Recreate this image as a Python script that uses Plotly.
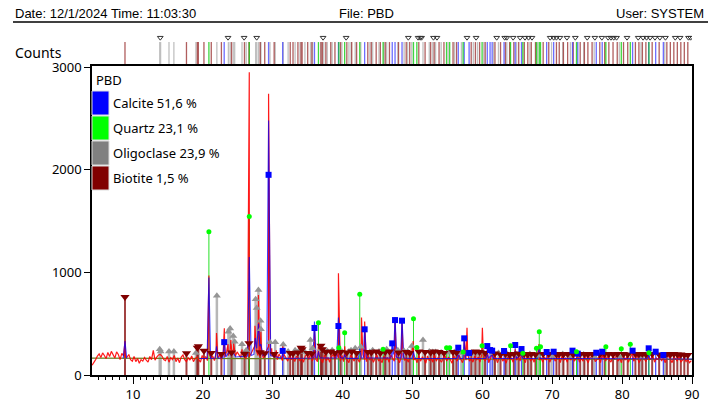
import numpy as np
import plotly.graph_objects as go

# ---------------- data ----------------
# observed pattern: background samples (start 4.15, step 0.25 deg 2theta)
obs_bg_start = 4.15
obs_bg_step = 0.25
obs_bg = [
    95, 120, 150, 185, 205, 170, 215, 190, 160, 220, 180, 230, 195, 165, 225, 200, 150, 210, 185, 170,
    175, 200, 150, 135, 180, 130, 160, 115, 150, 135, 170, 145, 125, 180, 150, 240, 145, 175, 195, 200,
    185, 150, 140, 180, 125, 170, 150, 190, 130, 165, 120, 175, 195, 150, 130, 170, 145, 185, 130, 160,
    175, 150, 125, 190, 150, 180, 140, 200, 160, 185, 140, 210, 165, 195, 150, 220, 175, 230, 190, 240,
    215, 250, 185, 225, 200, 170, 220, 185, 160, 225, 175, 210, 250, 280, 235, 190, 175, 220, 165, 205,
    235, 280, 200, 180, 215, 170, 150, 205, 175, 140, 195, 165, 135, 190, 150, 175, 130, 185, 160, 140,
    165, 125, 185, 200, 150, 215, 135, 180, 155, 130, 190, 160, 120, 195, 140, 170, 125, 180, 200, 150,
    210, 165, 135, 190, 130, 180, 155, 120, 195, 165, 135, 185, 160, 125, 180, 200, 150, 130, 190, 145,
    170, 125, 160, 195, 135, 155, 120, 185, 145, 170, 125, 195, 160, 135, 185, 160, 120, 175, 195, 145,
    160, 125, 185, 205, 145, 165, 120, 190, 135, 175, 155, 115, 185, 140, 165, 125, 195, 135, 170, 150,
    125, 165, 190, 135, 175, 150, 115, 185, 160, 135, 195, 160, 120, 175, 145, 200, 135, 160, 125, 185,
    145, 175, 125, 195, 165, 135, 185, 120, 160, 200, 145, 175, 120, 165, 195, 135, 160, 115, 175, 150,
    165, 125, 195, 145, 175, 135, 185, 160, 120, 200, 170, 140, 165, 125, 185, 205, 145, 165, 125, 175,
    145, 185, 125, 165, 195, 135, 160, 175, 120, 185, 145, 165, 125, 195, 145, 175, 135, 160, 185, 125,
    165, 135, 195, 150, 120, 175, 160, 185, 130, 150, 175, 120, 195, 160, 135, 185, 150, 125, 175, 160,
    185, 135, 160, 120, 200, 145, 175, 125, 165, 195, 135, 160, 185, 120, 150, 175, 160, 130, 185, 150,
    160, 185, 125, 165, 150, 195, 135, 175, 120, 165, 185, 145, 120, 175, 160, 135, 185, 125, 150, 165,
    130, 155, 120, 140,
]
# observed peak apexes
obs_peak_x = [8.85, 20.86, 21.95, 23.07, 23.6, 24.0, 24.4, 25.6, 26.64, 27.45, 27.95, 28.3, 29.40,
              29.85, 30.5, 31.42, 35.97, 36.54, 39.40, 40.30, 42.70, 43.15, 47.50, 48.50, 50.10,
              57.40, 57.80, 60.00, 60.70, 61.40, 64.70, 65.60, 68.10, 73.00, 77.50, 81.50]
obs_peak_y = [330, 970, 410, 455, 300, 340, 310, 250, 2950, 480, 780, 420, 2740,
              260, 240, 280, 430, 300, 990, 280, 560, 520, 560, 540, 330,
              380, 460, 460, 250, 250, 250, 230, 300, 210, 220, 220]

# calculated pattern (None = gap where it lies under the background curve)
calc_x = [8.6, 8.85, 9.1, None, 19.5, 20.6, 20.86, 21.1, 21.75, 21.95, 22.15, 22.85, 23.07, 23.3, 23.8, 24.05,
          24.3, 24.7, 26.4, 26.64, 26.9, 27.3, 27.5, 27.7, 27.95, 28.15, 28.3, 28.6, 29.15, 29.4, 29.7,
          31.2, 31.42, 31.65, 35.75, 35.97, 36.2, 36.35, 36.54, 36.75, 39.15, 39.4, 39.65, 40.1, 40.3,
          40.5, 42.25, 42.45, 42.65, 42.95, 43.15, 43.4, 46.9, 47.1, 47.3, 47.5, 47.75, 48.3, 48.5,
          48.75, 49.95, 50.14, 50.35, 56.35, 56.55, 56.75, 57.2, 57.4, 57.6, 60.5, 60.7, 60.9, 61.4,
          61.6, 64.5, 64.7, 64.9, 65.6, 65.8, 67.9, 68.1, 68.3, 83.6, 83.8, 84.0, 90.0]
calc_y = [160, 330, 160, None, 160, 160, 950, 162, 165, 280, 165, 168, 330, 175, 230, 190,
          220, 175, 185, 1150, 190, 200, 360, 260, 500, 280, 300, 190, 200, 2480, 190,
          165, 210, 162, 165, 520, 170, 168, 230, 165, 165, 560, 170, 162, 200,
          162, 162, 260, 165, 165, 470, 165, 165, 300, 200, 560, 170, 165, 550,
          165, 162, 230, 162, 160, 220, 160, 162, 330, 162, 160, 210, 165, 200,
          160, 160, 230, 162, 200, 160, 160, 260, 162, 158, 200, 158, 156]

# background curve
bg_x = [4.13, 10, 20, 30, 40, 60, 90]
bg_y = [165, 165, 160, 160, 158, 155, 152]

# phases: reference stick positions (deg 2theta) and heights (counts)
calcite_pos = [23.05, 29.40, 31.42, 35.97, 39.40, 43.15, 47.10, 47.50, 48.50, 56.55, 57.40, 58.10, 60.70,
               61.10, 61.40, 63.10, 64.70, 65.60, 69.20, 70.20, 72.90, 73.65, 76.30, 77.15, 81.50,
               83.80, 84.80, 85.90]
calcite_h = [320, 1950, 235, 458, 477, 445, 308, 535, 529, 266, 357, 215, 282,
             243, 237, 234, 292, 253, 224, 227, 237, 208, 217, 227, 237,
             260, 227, 195]

quartz_pos = [20.86, 26.64, 36.54, 39.46, 40.29, 42.45, 45.79, 50.14, 50.62, 54.87, 55.32, 57.24,
              59.96, 64.03, 65.79, 67.74, 68.14, 68.32, 73.47, 77.67, 79.88, 81.17, 83.84]
quartz_h = [1395, 1545, 510, 266, 412, 786, 250, 548, 269, 266, 266, 224,
            285, 285, 211, 260, 422, 276, 227, 276, 256, 299, 217]

oligo_pos = [13.82, 13.95, 15.15, 15.85, 19.0, 22.0, 23.65, 23.9, 24.35, 24.55, 25.6, 26.2, 27.55,
             27.7, 27.95, 28.25, 28.3, 29.6, 30.35, 31.5, 33.2, 33.9, 35.4, 35.7, 36.9, 37.8, 38.5,
             39.9, 41.2, 41.8, 42.6, 44.3, 45.2, 46.3, 47.9, 48.8, 49.9, 51.5, 52.4, 53.3, 54.1,
             56.0, 58.7, 60.2, 62.3, 63.5, 66.8, 71.5, 74.5, 32.2, 34.6, 37.3, 40.9, 43.9, 45.9,
             49.3, 52.9, 55.1, 57.0, 59.3, 61.6, 64.9, 67.9, 69.9, 72.6, 76.0, 79.6, 82.7, 86.1]
oligo_h = [250, 230, 230, 230, 214, 772, 422, 454, 380, 325, 299, 240, 737,
           652, 828, 529, 445, 318, 318, 296, 240, 250, 341, 260, 250, 235, 240,
           230, 240, 260, 275, 240, 230, 250, 240, 235, 282, 341, 230, 225, 220,
           225, 215, 220, 215, 210, 205, 205, 200, 230, 225, 240, 230, 225, 235,
           230, 225, 220, 215, 210, 215, 200, 190, 185, 185, 180, 180, 180, 180]

biotite_pos = [8.85, 17.65, 19.2, 19.35, 20.15, 21.2, 22.65, 24.1, 25.95, 26.6, 28.2, 28.85, 30.2,
               32.5, 32.9, 33.6, 34.05, 34.2, 35.0, 35.6, 36.9, 37.1, 37.6, 38.3, 38.9, 39.7, 40.6,
               41.3, 42.0, 43.6, 44.1, 44.8, 45.4, 46.1, 46.7, 48.0, 49.1, 49.6, 50.9, 51.8, 52.6,
               53.1, 53.8, 54.5, 55.8, 56.3, 58.4, 59.0, 59.6, 60.4, 61.8, 62.6, 63.3, 63.9, 64.5,
               65.2, 66.0, 66.5, 67.0, 67.6, 68.7, 69.5, 70.6, 71.0, 71.6, 72.2, 73.0, 74.0, 74.6,
               75.1, 75.7, 76.8, 77.5, 78.1, 78.7, 79.3, 80.2, 80.8, 81.9, 82.4, 82.9, 83.4, 84.3,
               85.3, 86.4, 86.9, 87.4, 87.9, 88.4, 88.9, 89.4]
biotite_h = [760, 212, 265, 280, 236, 214, 205, 218, 208, 310, 222, 212, 205,
             215, 210, 220, 266, 250, 215, 210, 285, 250, 225, 230, 215, 225, 220,
             230, 215, 225, 220, 230, 215, 225, 230, 220, 225, 215, 230, 225, 220,
             230, 225, 215, 225, 220, 220, 230, 225, 215, 210, 200, 205, 195, 205,
             210, 205, 200, 205, 200, 205, 205, 200, 205, 200, 205, 200, 205, 205,
             200, 205, 200, 205, 205, 200, 205, 205, 200, 205, 200, 205, 200, 205,
             200, 205, 200, 205, 200, 200, 195, 195]

# marks shown above the peak band
band_v_pos = [13.9, 23.6, 25.9, 27.7, 37.2, 40.5, 49.4, 50.8, 51.1, 51.3, 53.0, 53.5, 57.8, 59.1, 62.05,
              63.2, 63.5, 64.4, 65.4, 66.1, 66.6, 67.1, 69.7, 70.2, 70.6, 71.1, 72.1, 73.3, 75.0,
              76.1, 77.1, 78.0, 78.4, 78.8, 79.2, 80.7, 82.3, 83.0, 83.5, 84.0, 84.7, 85.4, 86.2,
              87.6, 88.3, 89.5, 89.8]

phase_names = ["Calcite 51,6 %", "Quartz 23,1 %", "Oligoclase 23,9 %", "Biotite 1,5 %"]
phase_colors = ["#0000ff", "#00ff00", "#808080", "#800000"]

# ---------------- figure ----------------
W, H = 708, 405
ML, MR, MT, MB = 92, 16, 30, 30
PW, PH = W - ML - MR, H - MT - MB


def px(xp):
    return (xp - ML) / PW


def py(yp):
    return (H - MB - yp) / PH


def sticks(pos, h):
    xs, ys = [], []
    for p, v in zip(pos, h):
        xs += [p, p, None]
        ys += [0, v, None]
    return xs, ys


def band(pos):
    xs, ys = [], []
    for p in pos:
        xs += [p, p, None]
        ys += [0, 1, None]
    return xs, ys


fig = go.Figure()

stick_styles = [
    (oligo_pos, oligo_h, "rgba(175,175,175,0.9)", 2.5),
    (biotite_pos, biotite_h, "rgba(139,20,20,0.8)", 2.0),
    (calcite_pos, calcite_h, "rgba(40,40,255,0.8)", 1.3),
    (quartz_pos, quartz_h, "rgba(0,220,0,0.85)", 1.0),
]
for pos, h, col, w in stick_styles:
    xs, ys = sticks(pos, h)
    fig.add_trace(go.Scatter(x=xs, y=ys, mode="lines", line=dict(color=col, width=w),
                             hoverinfo="skip", showlegend=False))

# band at the top
band_styles = [
    (oligo_pos, "rgba(185,185,185,0.9)"),
    (biotite_pos, "rgba(150,40,40,0.75)"),
    (calcite_pos, "rgba(60,60,255,0.75)"),
    (quartz_pos, "rgba(0,200,0,0.75)"),
]
for pos, col in band_styles:
    xs, ys = band(pos)
    fig.add_trace(go.Scatter(x=xs, y=ys, mode="lines", line=dict(color=col, width=1.3),
                             xaxis="x", yaxis="y2", hoverinfo="skip", showlegend=False))
fig.add_trace(go.Scatter(x=band_v_pos, y=[1.2] * len(band_v_pos), mode="markers",
                         marker=dict(symbol="triangle-down-open", size=5, color="#333333",
                                     line=dict(width=1, color="#333333")),
                         xaxis="x", yaxis="y2", hoverinfo="skip", showlegend=False))

# observed = background samples merged with peak apexes
grid_x = [obs_bg_start + obs_bg_step * i for i in range(len(obs_bg))]
pairs = sorted(list(zip(grid_x, obs_bg)) + list(zip(obs_peak_x, obs_peak_y)))
obs_x = [p[0] for p in pairs]
obs_y = [p[1] for p in pairs]

fig.add_trace(go.Scatter(x=bg_x, y=bg_y, mode="lines", line=dict(color="#6b7d1e", width=1.2),
                         hoverinfo="skip", showlegend=False))
fig.add_trace(go.Scatter(x=obs_x, y=obs_y, mode="lines", line=dict(color="rgba(255,0,0,0.9)", width=1.2),
                         hoverinfo="skip", showlegend=False))
fig.add_trace(go.Scatter(x=calc_x, y=calc_y, mode="lines", connectgaps=False,
                         line=dict(color="rgba(0,0,255,0.75)", width=1.1),
                         hoverinfo="skip", showlegend=False))

# markers at stick tops
fig.add_trace(go.Scatter(x=oligo_pos, y=oligo_h, mode="markers",
                         marker=dict(symbol="triangle-up", size=7, color="#959595"),
                         hoverinfo="skip", showlegend=False))
fig.add_trace(go.Scatter(x=biotite_pos, y=biotite_h, mode="markers",
                         marker=dict(symbol="triangle-down", size=8, color="#800000"),
                         hoverinfo="skip", showlegend=False))
fig.add_trace(go.Scatter(x=calcite_pos, y=calcite_h, mode="markers",
                         marker=dict(symbol="square", size=6, color="#0000ff"),
                         hoverinfo="skip", showlegend=False))
fig.add_trace(go.Scatter(x=quartz_pos, y=quartz_h, mode="markers",
                         marker=dict(symbol="circle", size=5, color="#00ff00"),
                         hoverinfo="skip", showlegend=False))

axis_font = dict(family="Noto Sans, Open Sans, sans-serif", size=13, color="#000000")
header_font = dict(family="Liberation Sans, Arial, sans-serif", size=13, color="#000000")

shapes = [
    dict(type="line", xref="paper", yref="paper", x0=px(13), x1=px(708), y0=py(22), y1=py(22),
         line=dict(color="#000000", width=1.5)),
]
annotations = [
    dict(text="Date: 12/1/2024 Time: 11:03:30", x=px(13), y=py(14), xref="paper", yref="paper",
         xanchor="left", yanchor="middle", showarrow=False, font=header_font),
    dict(text="File: PBD", x=px(366), y=py(14), xref="paper", yref="paper",
         xanchor="center", yanchor="middle", showarrow=False, font=header_font),
    dict(text="User: SYSTEM", x=px(706), y=py(14), xref="paper", yref="paper",
         xanchor="right", yanchor="middle", showarrow=False, font=header_font),
    dict(text="Counts", x=px(13), y=py(52), xref="paper", yref="paper",
         xanchor="left", yanchor="middle", showarrow=False, font=dict(axis_font, size=14)),
    dict(text="PBD", x=px(94), y=py(80), xref="paper", yref="paper",
         xanchor="left", yanchor="middle", showarrow=False, font=dict(axis_font, size=13)),
]
sw_top = 91
for i, (name, col) in enumerate(zip(phase_names, phase_colors)):
    y0 = sw_top + 25 * i
    shapes.append(dict(type="rect", xref="paper", yref="paper", x0=px(92), x1=px(109),
                       y0=py(y0), y1=py(y0 + 24), fillcolor=col, line=dict(color="#dddddd", width=1)))
    annotations.append(dict(text=name, x=px(111), y=py(y0 + 12), xref="paper", yref="paper",
                            xanchor="left", yanchor="middle", showarrow=False,
                            font=dict(axis_font, size=13)))

fig.update_layout(
    width=W, height=H, autosize=False,
    margin=dict(l=ML, r=MR, t=MT, b=MB, autoexpand=False),
    paper_bgcolor="#ffffff", plot_bgcolor="#ffffff",
    showlegend=False,
    xaxis=dict(range=[4.13, 90], tickvals=[10, 20, 30, 40, 50, 60, 70, 80, 90],
               ticks="outside", ticklen=7, tickcolor="#000000", tickwidth=1,
               minor=dict(dtick=1, tick0=0, ticks="outside", ticklen=3, tickcolor="#000000"),
               showline=True, linecolor="#000000", linewidth=1.5, mirror=True,
               showgrid=False, zeroline=False, tickfont=axis_font, anchor="y", automargin=False),
    yaxis=dict(range=[0, 3010], domain=[0, py(66)], tickvals=[0, 1000, 2000, 3000],
               ticks="outside", ticklen=6, tickcolor="#000000",
               showline=True, linecolor="#000000", linewidth=1.5, mirror=True,
               showgrid=False, zeroline=False, tickfont=axis_font, automargin=False),
    yaxis2=dict(range=[0, 1.55], domain=[py(64), 1.0], anchor="x", visible=False,
                showgrid=False, zeroline=False),
    shapes=shapes,
    annotations=annotations,
)

fig.write_html("out.html")
